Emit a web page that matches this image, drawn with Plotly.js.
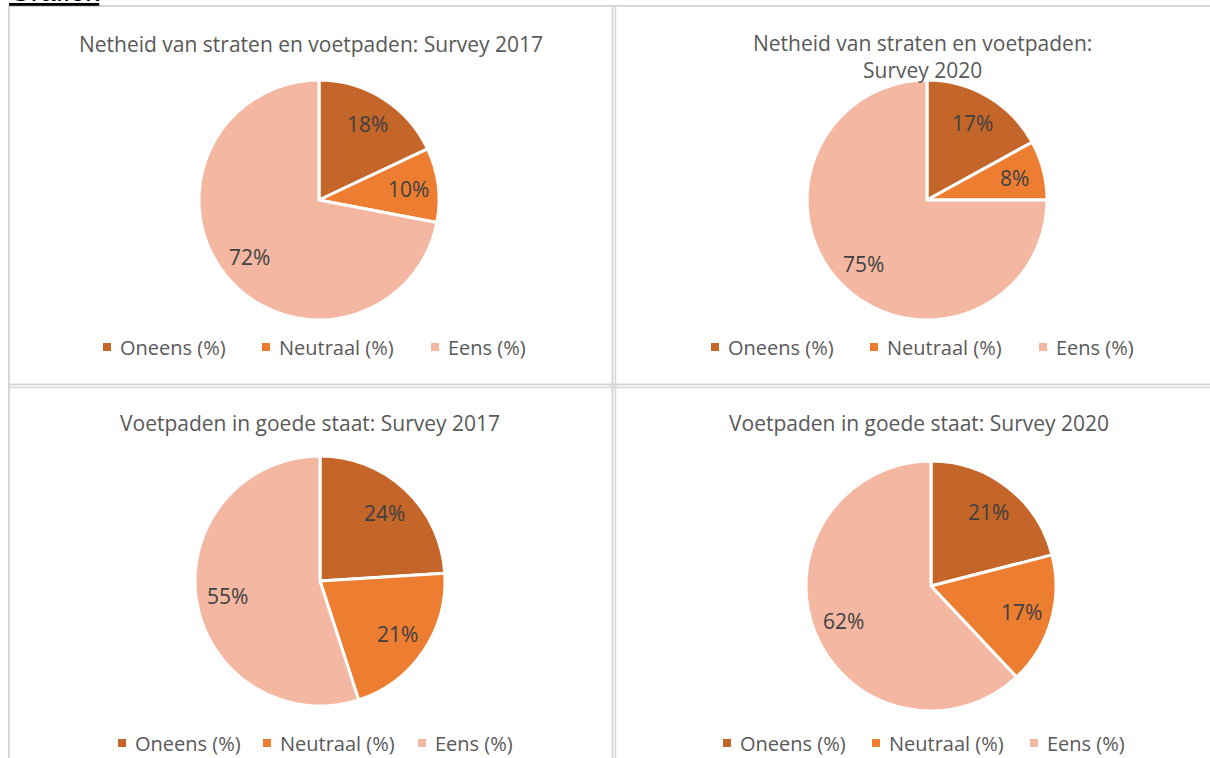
<!DOCTYPE html>
<html>
<head>
<meta charset="utf-8">
<script src="https://cdn.plot.ly/plotly-3.0.1.min.js"></script>
<style>html,body{margin:0;padding:0;background:#fff;}#chart{width:1210px;height:758px;}</style>
</head>
<body>
<div id="chart"></div>
<script>
// ---- data ----
const categories = ["Oneens (%)", "Neutraal (%)", "Eens (%)"];
const titles = [
  "Netheid van straten en voetpaden: Survey 2017",
  "Netheid van straten en voetpaden:<br>Survey 2020",
  "Voetpaden in goede staat: Survey 2017",
  "Voetpaden in goede staat: Survey 2020"
];
const netheid2017 = [18, 10, 72];
const netheid2020 = [17, 8, 75];
const voetpaden2017 = [24, 21, 55];
const voetpaden2020 = [21, 17, 62];
const colors = ["#C4652A", "#ED7D31", "#F4B8A2"];

const W = 1210, H = 758;
const FONT = "'Open Sans', sans-serif";

// panel geometry (pixels): pie centre, radius, title pos, legend y and square x positions
const panels = [
  {vals: netheid2017, cx: 319, cy: 200, r: 120, tx: 311, ty: 44, ly: 347, sq: [103, 262, 431]},
  {vals: netheid2020, cx: 927, cy: 200, r: 120, tx: 923, ty: 56, ly: 347, sq: [711, 870, 1039]},
  {vals: voetpaden2017, cx: 320, cy: 581, r: 125, tx: 310, ty: 423, ly: 743, sq: [118, 263, 418]},
  {vals: voetpaden2020, cx: 931, cy: 586, r: 125, tx: 919, ty: 423, ly: 743, sq: [723, 872, 1030]}
];

const px = x => x / W;
const py = y => 1 - y / H;

const data = panels.map(p => ({
  type: "pie",
  values: p.vals,
  labels: categories,
  sort: false,
  direction: "clockwise",
  rotation: 0,
  marker: {colors: colors, line: {color: "#ffffff", width: 3}},
  textinfo: "none",
  hoverinfo: "label+value",
  showlegend: false,
  domain: {x: [px(p.cx - p.r), px(p.cx + p.r)], y: [py(p.cy + p.r), py(p.cy - p.r)]}
}));

const annotations = [];
const shapes = [];

// data labels: placed along each slice's mid-angle (derived from the values)
panels.forEach(p => {
  const total = p.vals.reduce((a, b) => a + b, 0);
  let cum = 0;
  p.vals.forEach(v => {
    const mid = (cum + v / 2) / total * 2 * Math.PI;
    cum += v;
    const f = 0.75;
    const x = p.cx + Math.sin(mid) * p.r * f;
    const y = p.cy - Math.cos(mid) * p.r * f;
    annotations.push({
      xref: "paper", yref: "paper", x: px(x), y: py(y),
      xanchor: "center", yanchor: "middle", showarrow: false,
      text: v + "%", font: {family: FONT, size: 21, color: "#404040"}
    });
  });
});

// titles
panels.forEach((p, i) => {
  annotations.push({
    xref: "paper", yref: "paper", x: px(p.tx), y: py(p.ty),
    xanchor: "center", yanchor: "middle", showarrow: false,
    text: titles[i], font: {family: FONT, size: 21, color: "#595959"}
  });
});

// legends (built from categories/colors)
panels.forEach(p => {
  categories.forEach((c, k) => {
    const x = p.sq[k];
    shapes.push({
      type: "rect", xref: "paper", yref: "paper",
      x0: px(x), x1: px(x + 8), y0: py(p.ly + 4), y1: py(p.ly - 4),
      fillcolor: colors[k], line: {width: 0}
    });
    annotations.push({
      xref: "paper", yref: "paper", x: px(x + 15), y: py(p.ly),
      xanchor: "left", yanchor: "middle", showarrow: false,
      text: c, font: {family: FONT, size: 20, color: "#595959"}
    });
  });
});

// table borders
const gray = "#D6D6D6";
function line(x0, y0, x1, y1, w) {
  shapes.push({type: "line", xref: "paper", yref: "paper",
    x0: px(x0), y0: py(y0), x1: px(x1), y1: py(y1), line: {color: gray, width: w || 1.5}});
}
line(8, 6, 1210, 6, 2);
line(9, 6, 9, 758, 2);
line(612.5, 6, 612.5, 758, 2);
line(615.5, 6, 615.5, 758, 1.5);
line(8, 384.5, 1210, 384.5, 2);
line(8, 387.5, 1210, 387.5, 1.5);

// "Grafiek" heading, cut off at the top
annotations.push({
  xref: "paper", yref: "paper", x: px(7), y: py(9),
  xanchor: "left", yanchor: "bottom", showarrow: false,
  text: "<u>Grafiek</u>", font: {family: "'Liberation Sans', Arial, sans-serif", size: 28, color: "#000000"}
});

const layout = {
  width: W, height: H,
  margin: {l: 0, r: 0, t: 0, b: 0},
  paper_bgcolor: "#ffffff",
  plot_bgcolor: "#ffffff",
  showlegend: false,
  annotations: annotations,
  shapes: shapes
};

Plotly.newPlot("chart", data, layout, {displayModeBar: false, staticPlot: true});
</script>
</body>
</html>
